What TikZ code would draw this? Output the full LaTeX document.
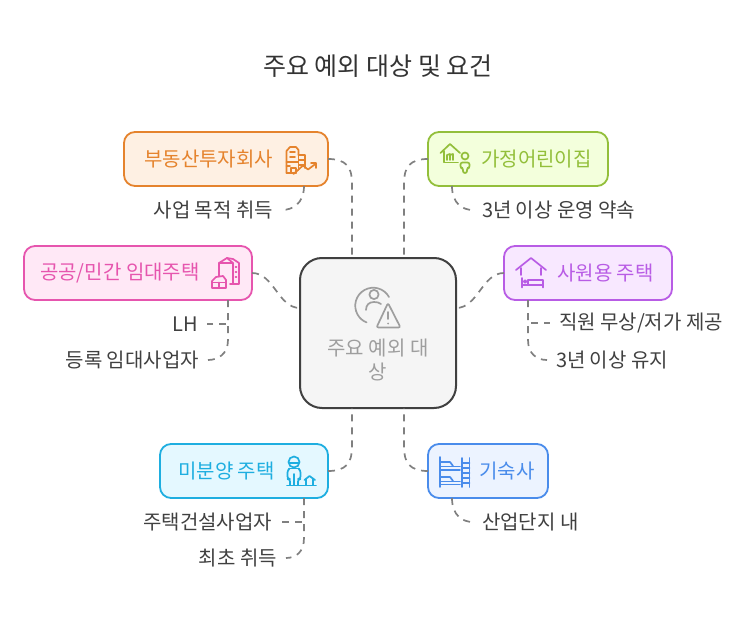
\documentclass[tikz,border=0pt]{standalone}
\usepackage{fontspec}
\setmainfont{Noto Sans CJK KR}
\usetikzlibrary{calc}
\definecolor{cOr}{HTML}{E5832D}\definecolor{fOr}{HTML}{FEF0E3}
\definecolor{cGr}{HTML}{93BF3B}\definecolor{fGr}{HTML}{F3FFDC}
\definecolor{cPk}{HTML}{E655AE}\definecolor{fPk}{HTML}{FFE8F6}
\definecolor{cPu}{HTML}{B85CE5}\definecolor{fPu}{HTML}{F8E8FF}
\definecolor{cCy}{HTML}{1EAEE0}\definecolor{fCy}{HTML}{E4F8FF}
\definecolor{cBl}{HTML}{4A8CEB}\definecolor{fBl}{HTML}{ECF3FF}
\newcommand{\fs}[1]{\fontsize{#1}{#1}\selectfont}
\tikzset{
 x=1pt,y=-1pt,
 cardbox/.style={draw=#1,line width=1.8pt,rounded corners=11pt,outer sep=0pt,inner sep=0pt,minimum height=54pt},
 txt/.style={inner sep=0pt,font=\fs{20},text=#1},
 sub/.style={inner ysep=0pt,inner xsep=9pt,outer sep=0pt,font=\fs{20},text=black!75},
 link/.style={draw=black!50,line width=1.7pt,dash pattern=on 7pt off 6pt},
 ico/.style={draw=#1,line width=1.7pt,line cap=round,line join=round},
}
\begin{document}
\begin{tikzpicture}
\useasboundingbox (0,0) rectangle (756,618);
\node[inner sep=0pt,font=\fs{25},text=black!80] (title) at (378,66) {주요 예외 대상 및 요건};
% boxes
\node[draw=black!75,line width=2pt,rounded corners=22pt,fill=black!4,minimum width=156pt,minimum height=150pt,inner sep=0pt,outer sep=0pt] (center) at (378,333) {};
\node[txt=black!38,anchor=center] (ctext1) at (378,348) {주요 예외 대};
\node[txt=black!38,anchor=center] (ctext2) at (378,372) {상};
\node[cardbox=cOr,fill=fOr,minimum width=204pt] (bA) at (226,159) {};
\node[cardbox=cGr,fill=fGr,minimum width=180pt] (bB) at (518,159) {};
\node[cardbox=cPk,fill=fPk,minimum width=228pt] (bC) at (138,273) {};
\node[cardbox=cPu,fill=fPu,minimum width=168pt] (bD) at (588,273) {};
\node[cardbox=cCy,fill=fCy,minimum width=168pt] (bE) at (244,471) {};
\node[cardbox=cBl,fill=fBl,minimum width=120pt] (bF) at (488,471) {};
% box labels
\node[txt=cOr,anchor=west] (tA) at (144,159) {부동산투자회사};
\node[txt=cGr,anchor=west] (tB) at (481,159) {가정어린이집};
\node[txt=cPk,anchor=west] (tC) at (40,273) {공공/민간 임대주택};
\node[txt=cPu,anchor=west] (tD) at (557,273) {사원용 주택};
\node[txt=cCy,anchor=west] (tE) at (178,471) {미분양 주택};
\node[txt=cBl,anchor=west] (tF) at (479,471) {기숙사};
% sub labels
\node[sub,anchor=east] (sA) at (282,210) {사업 목적 취득};
\node[sub,anchor=west] (sB) at (473,210) {3년 이상 운영 약속};
\node[sub,anchor=east] (sC1) at (207,324) {LH};
\node[sub,anchor=east] (sC2) at (208,360) {등록 임대사업자};
\node[sub,anchor=west] (sD1) at (550,323) {직원 무상/저가 제공};
\node[sub,anchor=west] (sD2) at (547,360) {3년 이상 유지};
\node[sub,anchor=east] (sE1) at (281,522) {주택건설사업자};
\node[sub,anchor=east] (sE2) at (286,558) {최초 취득};
\node[sub,anchor=west] (sF) at (473,522) {산업단지 내};
% main connectors
\path[link] (bA.east) .. controls +(18,0) and +(0,-16) .. ($(bA.east)+(24,24)$) -- ($(center.north west)+(52,0)$);
\path[link] (bB.west) .. controls +(-18,0) and +(0,-16) .. ($(bB.west)+(-24,24)$) -- ($(center.north east)+(-52,0)$);
\path[link] (bC.east) .. controls +(22,0) and +(-22,0) .. ($(center.west)+(0,-25)$);
\path[link] (bD.west) .. controls +(-22,0) and +(22,0) .. ($(center.east)+(0,-25)$);
\path[link] (bE.east) .. controls +(18,0) and +(0,16) .. ($(bE.east)+(24,-24)$) -- ($(center.south west)+(52,0)$);
\path[link] (bF.west) .. controls +(-18,0) and +(0,16) .. ($(bF.west)+(-24,-24)$) -- ($(center.south east)+(-52,0)$);
% sub connectors
\path[link] ($(bA.south east)+(-24,0)$) .. controls +(0,18) and +(10,0) .. (sA.east);
\path[link] ($(bB.south west)+(24,0)$) .. controls +(0,18) and +(-10,0) .. (sB.west);
\path[link] ($(bC.south east)+(-24,0)$) |- (sC1.east);
\path[link] ($(bC.south east)+(-24,0)$) -- ++(0,40) .. controls +(0,14) and +(10,0) .. (sC2.east);
\path[link] ($(bD.south west)+(24,0)$) |- (sD1.west);
\path[link] ($(bD.south west)+(24,0)$) -- ++(0,40) .. controls +(0,14) and +(-10,0) .. (sD2.west);
\path[link] ($(bE.south east)+(-24,0)$) |- (sE1.east);
\path[link] ($(bE.south east)+(-24,0)$) -- ++(0,40) .. controls +(0,14) and +(10,0) .. (sE2.east);
\path[link] ($(bF.south west)+(24,0)$) .. controls +(0,18) and +(-10,0) .. (sF.west);
% centre icon
\begin{scope}[ico=black!38]
\draw (389,297) arc[start angle=-29,end angle=-248,radius=18] ;
\draw (374,294.5) circle[radius=4.6];
\draw (366,310) .. controls (366,305) and (369,302) .. (374,302) .. controls (377,302) and (379,302.5) .. (381,304);
\draw[rounded corners=2pt] (388,303) -- (376.5,327.5) -- (400.5,327.5) -- cycle;
\draw (388,312) -- (388,319);
\fill[black!38] (388,323.5) circle[radius=1];
\end{scope}
% orange icon
\begin{scope}[ico=cOr]
\draw (286.5,173) -- (286.5,151) -- (290,147) -- (296,147) -- (298.5,150) -- (298.5,155);
\draw (286.5,166) -- (290,166) (286.5,162) -- (298,162);
\draw (286.5,173) -- (296,173);
\draw (298.5,155) -- (305,155) -- (305,168);
\draw (291,173) -- (291,168) -- (296,168) -- (296,173);
\draw (290,152) -- (295,152) (290,157) -- (295,157);
\draw (299,160) -- (305,160) (299,165) -- (304,165) (298.5,155) -- (298.5,170);
\draw (293.5,174) -- (303,165.5) -- (308,169.5) -- (316,163.5) (311,163) -- (316,163) -- (316,168);
\end{scope}
% green icon
\begin{scope}[ico=cGr]
\draw (440.5,153) -- (450,144) -- (460,153);
\draw (444,151) -- (444,162.5) -- (458,162.5);
\draw (447,160) -- (447,155) -- (450,154) -- (450,160) (450,155) -- (453,154) -- (453,160);
\draw (465,156) circle[radius=3.5];
\draw[rounded corners=2pt] (460.5,168) -- (460.5,162.5) -- (469.5,162.5) -- (469.5,168) -- (467,168) -- (467,173) -- (463,173) -- (463,168) -- cycle;
\end{scope}
% pink icon
\begin{scope}[ico=cPk]
\draw (219,276) -- (219,263) -- (227,258) -- (233,259) -- (239,263) -- (239,284) -- (230,284);
\draw (219,263) -- (233,263) -- (233,284);
\draw (227,258) -- (233,263);
\draw (235.5,267) -- (236.5,267) (235.5,272) -- (236.5,272) (235.5,277) -- (236.5,277);
\draw (212,281) -- (216,277) -- (223,276) -- (226,280) -- (226,288) -- (212,288) -- cycle;
\draw (212,282.5) -- (226,282.5) (219,282.5) -- (219,288);
\end{scope}
% purple icon
\begin{scope}[ico=cPu]
\draw (516,270) -- (531,258) -- (546,270);
\draw (521,268) -- (521,275) (541,268) -- (541,275);
\draw (522,287.5) -- (522,278) (522,285) -- (543,285) (543,287.5) -- (543,280) -- (528,280) -- (528,285);
\draw (525,281.5) circle[radius=1.3];
\end{scope}
% cyan icon
\begin{scope}[ico=cCy]
\draw (294,462) circle[radius=5.5];
\draw (289.5,463) -- (298.5,463);
\draw[rounded corners=2.5pt] (289,469) -- (287.5,470) -- (287.5,479) -- (290,479) -- (290,485);
\draw[rounded corners=2.5pt] (299,469) -- (300.5,470) -- (300.5,479) -- (298,479) -- (298,485);
\draw (294,474) -- (294,485) (289,468.5) -- (299,468.5);
\draw (287,485.5) -- (316,485.5);
\draw (304.5,480) -- (309.5,476) -- (315,480);
\draw (306,479) -- (306,485) (313,479) -- (313,485);
\end{scope}
% blue icon
\begin{scope}[ico=cBl]
\draw (440,457) -- (440,487);
\draw (440,466.5) -- (460,466.5) (440,481.5) -- (460,481.5);
\draw (440,462) -- (450,462) -- (453,466) (440,477) -- (450,477) -- (453,481);
\draw (440,470) -- (460,470) (440,484.5) -- (460,484.5);
\draw (462,458) -- (462,487) (469.5,458) -- (469.5,487);
\draw (462,463) -- (469.5,463) (462,468) -- (469.5,468) (462,473) -- (469.5,473) (462,478) -- (469.5,478) (462,483) -- (469.5,483);
\end{scope}
\end{tikzpicture}
\end{document}
